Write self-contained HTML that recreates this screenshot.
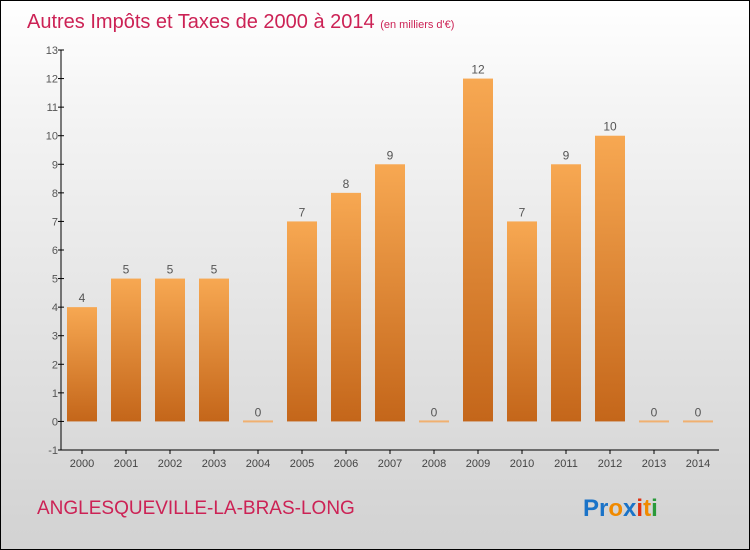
<!DOCTYPE html>
<html><head><meta charset="utf-8"><style>
body{margin:0}
#c{width:750px;height:550px;position:relative;box-sizing:border-box;border:1px solid #000;background:linear-gradient(#ffffff,#f4f4f4 20%,#d2d2d2);font-family:"Liberation Sans",sans-serif;overflow:hidden}
</style></head><body>
<div id="c">
<svg width="748" height="548" id="s">
<defs><linearGradient id="g" x1="0" y1="0" x2="0" y2="1"><stop offset="0" stop-color="#f7a852"/><stop offset="1" stop-color="#c4661a"/></linearGradient></defs>
<text x="26" y="27" font-size="20" fill="#cc2255">Autres Impôts et Taxes de 2000 à 2014 <tspan font-size="11">(en milliers d'€)</tspan></text>
<text x="36" y="513" font-size="19" fill="#cc2255">ANGLESQUEVILLE-LA-BRAS-LONG</text>
<text x="582" y="515" font-size="24" font-weight="bold"><tspan fill="#1a73c8">Pr</tspan><tspan fill="#f08a00">o</tspan><tspan fill="#1a73c8">x</tspan><tspan fill="#e03010">i</tspan><tspan fill="#f08a00">t</tspan><tspan fill="#2a9a3a">i</tspan></text>
<g id="plot"></g>
</svg></div>
<script>
const years=["2000","2001","2002","2003","2004","2005","2006","2007","2008","2009","2010","2011","2012","2013","2014"];
const values=[4,5,5,5,0,7,8,9,0,12,7,9,10,0,0];
const yTicks=[-1,0,1,2,3,4,5,6,7,8,9,10,11,12,13];
const ns="http://www.w3.org/2000/svg";
const p=document.getElementById('plot');
const y=v=>449-(v+1)*(400/14);
const x=i=>81+i*44;
function mk(t,a,txt){const e=document.createElementNS(ns,t);for(const k in a)e.setAttribute(k,a[k]);if(txt!==undefined)e.textContent=txt;p.appendChild(e);return e;}
let e=mk('line',{x1:60,y1:y(13),x2:60,y2:y(-1),stroke:'#000'});


e=mk('line',{x1:60,y1:y(-1),x2:718,y2:y(-1),stroke:'#000'});


yTicks.forEach(v=>{
 e=mk('line',{x1:57,y1:y(v),x2:63,y2:y(v),stroke:'#000'});
 
 
 e=mk('text',{x:57,y:y(v)+4,'font-size':11,fill:'#555','text-anchor':'end'},v);
 
 
});
years.forEach((yr,i)=>{
 const v=values[i];
 e=mk('line',{x1:x(i),y1:y(-1),x2:x(i),y2:y(-1)+4,stroke:'#000'});
 
 
 e=mk('text',{x:x(i),y:466,'font-size':11,fill:'#444','text-anchor':'middle'},yr);
 
 
 const h=Math.max(y(0)-y(v),2);
 e=mk('rect',{x:x(i)-15,y:y(0)-h+(v===0?1:0),width:30,height:h,fill:v===0?'#f0b070':'url(#g)'});
 
 
 e=mk('text',{x:x(i),y:y(v)-5,'font-size':12,fill:'#555','text-anchor':'middle'},v);
 
 
});
</script>
</body></html>
